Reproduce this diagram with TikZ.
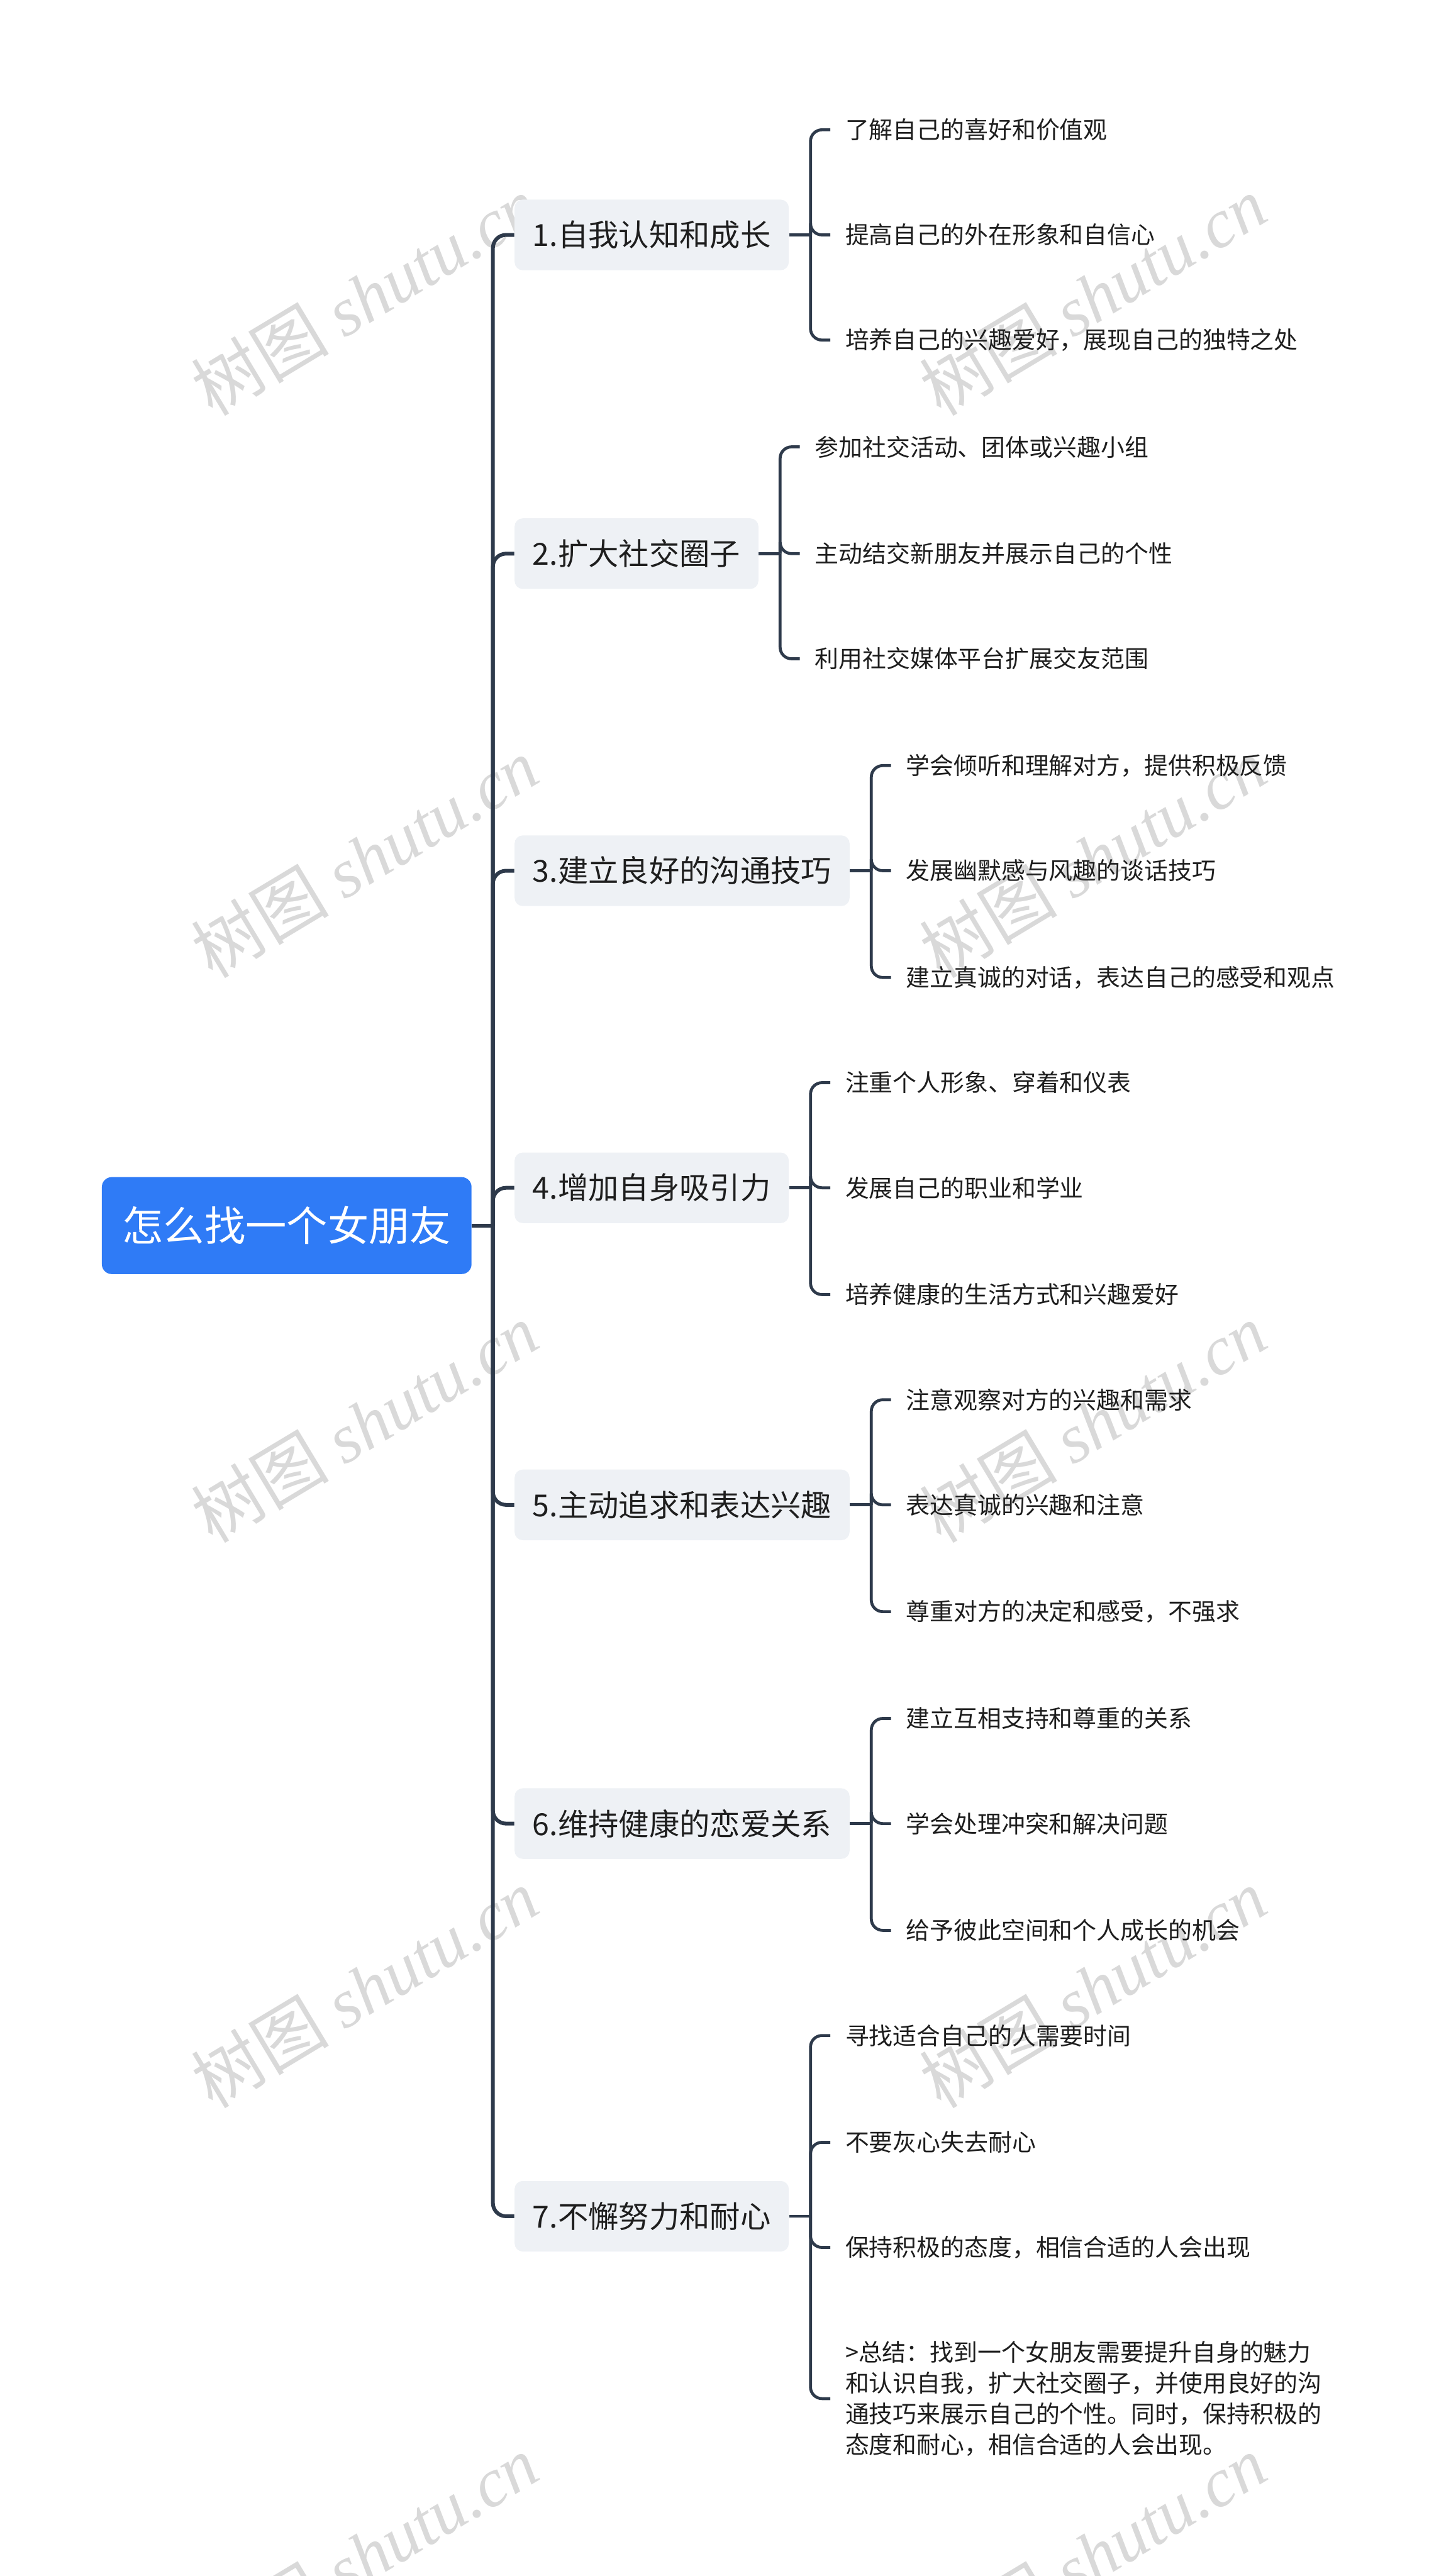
\documentclass[tikz,border=0pt]{standalone}
\usepackage{fontspec}
\setmainfont{Noto Sans CJK SC}
\newfontfamily\wmserif{Liberation Serif}
\usetikzlibrary{positioning,calc}

\definecolor{rootblue}{RGB}{47,123,246}
\definecolor{topicgray}{RGB}{238,241,245}
\definecolor{linecol}{RGB}{46,58,75}
\definecolor{inkcol}{RGB}{30,30,30}

\tikzset{
  rootbox/.style={fill=rootblue,text=white,rounded corners=6pt,
    font=\fontsize{25}{30}\selectfont,inner xsep=12.5pt,minimum height=59pt},
  topicbox/.style={fill=topicgray,text=inkcol,rounded corners=5pt,anchor=west,
    font=\fontsize{18.5}{22}\selectfont,inner xsep=11pt,minimum height=43pt},
  leafnode/.style={anchor=west,inner xsep=9pt,inner ysep=2pt,text=inkcol,
    font=\fontsize{14.5}{18.7}\selectfont},
  trunkline/.style={draw=linecol,line width=2.3pt,rounded corners=8pt},
  twigline/.style={draw=linecol,line width=1.8pt,rounded corners=7pt},
  watermark/.style={text=black!15,rotate=31,font=\fontsize{42}{42}\selectfont}
}

\begin{document}
\begin{tikzpicture}[x=1pt,y=-1pt]
\useasboundingbox (0,0) rectangle (883,1568);

% watermarks
\foreach \wy [count=\i] in {180,522,866,1210,1555}{
  \node[watermark] (wmL\i) at (222,\wy) {树图 {\wmserif\itshape shutu.cn}};
  \node[watermark] (wmR\i) at (665,\wy) {树图 {\wmserif\itshape shutu.cn}};
}

% root and main topics
\node[rootbox] (root) at (174.5,746) {怎么找一个女朋友};
\node[topicbox] (t1) at (313,143) {1.自我认知和成长};
\node[topicbox] (t2) at (313,337) {2.扩大社交圈子};
\node[topicbox] (t3) at (313,530) {3.建立良好的沟通技巧};
\node[topicbox] (t4) at (313,723) {4.增加自身吸引力};
\node[topicbox] (t5) at (313,916) {5.主动追求和表达兴趣};
\node[topicbox] (t6) at (313,1110) {6.维持健康的恋爱关系};
\node[topicbox] (t7) at (313,1349) {7.不懈努力和耐心};

\coordinate (hub) at (300,746);
\draw[trunkline] (root.east) -- (hub);
\foreach \t in {1,...,7}
  \draw[trunkline] (hub) |- (t\t.west);

% subtopics
\node[leafnode] (l11) at ($(t1.east)+(25,-64)$) {了解自己的喜好和价值观};
\node[leafnode] (l12) at ($(t1.east)+(25,0)$) {提高自己的外在形象和自信心};
\node[leafnode] (l13) at ($(t1.east)+(25,64)$) {培养自己的兴趣爱好，展现自己的独特之处};

\node[leafnode] (l21) at ($(t2.east)+(25,-65)$) {参加社交活动、团体或兴趣小组};
\node[leafnode] (l22) at ($(t2.east)+(25,0)$) {主动结交新朋友并展示自己的个性};
\node[leafnode] (l23) at ($(t2.east)+(25,64)$) {利用社交媒体平台扩展交友范围};

\node[leafnode] (l31) at ($(t3.east)+(25,-64)$) {学会倾听和理解对方，提供积极反馈};
\node[leafnode] (l32) at ($(t3.east)+(25,0)$) {发展幽默感与风趣的谈话技巧};
\node[leafnode] (l33) at ($(t3.east)+(25,65)$) {建立真诚的对话，表达自己的感受和观点};

\node[leafnode] (l41) at ($(t4.east)+(25,-64)$) {注重个人形象、穿着和仪表};
\node[leafnode] (l42) at ($(t4.east)+(25,0)$) {发展自己的职业和学业};
\node[leafnode] (l43) at ($(t4.east)+(25,65)$) {培养健康的生活方式和兴趣爱好};

\node[leafnode] (l51) at ($(t5.east)+(25,-64)$) {注意观察对方的兴趣和需求};
\node[leafnode] (l52) at ($(t5.east)+(25,0)$) {表达真诚的兴趣和注意};
\node[leafnode] (l53) at ($(t5.east)+(25,65)$) {尊重对方的决定和感受，不强求};

\node[leafnode] (l61) at ($(t6.east)+(25,-64)$) {建立互相支持和尊重的关系};
\node[leafnode] (l62) at ($(t6.east)+(25,0)$) {学会处理冲突和解决问题};
\node[leafnode] (l63) at ($(t6.east)+(25,65)$) {给予彼此空间和个人成长的机会};

\node[leafnode] (l71) at ($(t7.east)+(25,-110)$) {寻找适合自己的人需要时间};
\node[leafnode] (l72) at ($(t7.east)+(25,-45)$) {不要灰心失去耐心};
\node[leafnode] (l73) at ($(t7.east)+(25,19)$) {保持积极的态度，相信合适的人会出现};
\node[leafnode,align=left] (l74) at ($(t7.east)+(25,111)$)
  {>总结：找到一个女朋友需要提升自身的魅力\\和认识自我，扩大社交圈子，并使用良好的沟\\通技巧来展示自己的个性。同时，保持积极的\\态度和耐心，相信合适的人会出现。};

% brackets
\foreach \t/\n in {1/3,2/3,3/3,4/3,5/3,6/3,7/4}{
  \coordinate (b\t) at ($(t\t.east)+(13,0)$);
  \draw[twigline] (t\t.east) -- (b\t);
  \foreach \k in {1,...,\n}
    \draw[twigline] (b\t) |- (l\t\k.west);
}
\end{tikzpicture}
\end{document}
